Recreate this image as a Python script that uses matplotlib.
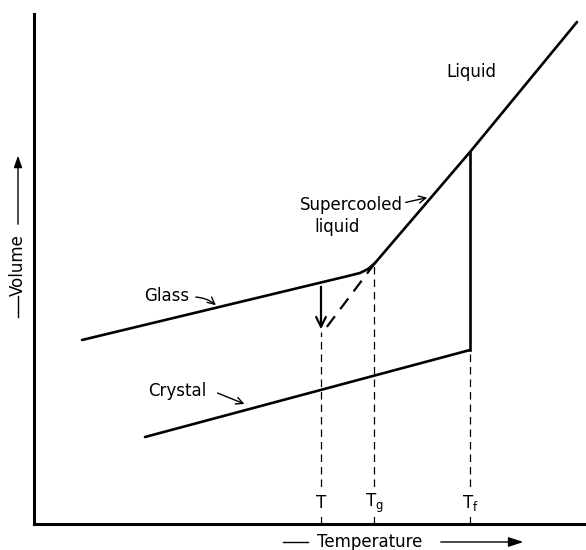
import matplotlib
matplotlib.use("Agg")
import matplotlib.pyplot as plt
import numpy as np

# Schematic data (arbitrary units: temperature, volume)
glass_T = [48, 314, 326, 334, 341]
glass_V = [184, 248, 251, 255, 261]
liquid_T = [341, 436, 543]
liquid_V = [261, 372, 502]
crystal_T = [111, 436]
crystal_V = [87, 174]
T_val, Tg_val, Tf_val = 287, 340, 436
V_T_top = 192        # volume at T after relaxation
V_T_glass = 240      # glass volume at T
V_Tg = 261
V_Tf_crystal = 174
V_Tf_liquid = 372
tick_labels = ["T", r"$\mathregular{T_g}$", r"$\mathregular{T_f}$"]

fig = plt.figure(figsize=(5.86, 5.5), dpi=100)
ax = fig.add_axes([34/586, 26/550, 552/586, 510/550])
ax.set_xlim(0, 552)
ax.set_ylim(0, 510)
for s in ["top", "right"]:
    ax.spines[s].set_visible(False)
for s in ["left", "bottom"]:
    ax.spines[s].set_linewidth(2.2)
ax.set_xticks([])
ax.set_yticks([])

lw = 1.9
ax.plot(glass_T, glass_V, color="black", lw=lw, solid_capstyle="round")
ax.plot(liquid_T, liquid_V, color="black", lw=lw, solid_capstyle="round")
ax.plot(crystal_T, crystal_V, color="black", lw=lw, solid_capstyle="round")
ax.plot([Tf_val, Tf_val], [V_Tf_crystal, V_Tf_liquid], color="black", lw=lw)

# dashed guides
dash = dict(color="black", lw=0.9, ls=(0, (6, 4)))
ax.plot([T_val, T_val], [0, V_T_top], **dash)
ax.plot([Tg_val, Tg_val], [0, V_Tg], **dash)
ax.plot([Tf_val, Tf_val], [0, V_Tf_crystal], **dash)
ax.plot([Tg_val + 1, T_val + 2], [V_Tg, V_T_top], color="black", lw=1.6,
        ls=(0, (6, 4)))

# relaxation arrow
ax.annotate("", xy=(T_val, V_T_top), xytext=(T_val, V_T_glass),
            arrowprops=dict(arrowstyle="->,head_width=0.35,head_length=0.7",
                            lw=1.6, color="black"))

fs = 12
ax.text(437, 452, "Liquid", fontsize=fs, ha="center", va="center")
ax.text(317, 319, "Supercooled", fontsize=fs, ha="center", va="center")
ax.text(303, 297, "liquid", fontsize=fs, ha="center", va="center")
ax.text(133, 228, "Glass", fontsize=fs, ha="center", va="center")
ax.text(143, 133, "Crystal", fontsize=fs, ha="center", va="center")

arr = dict(arrowstyle="->,head_width=0.25,head_length=0.5", lw=1.0, color="black")
ax.annotate("", xy=(396, 327), xytext=(369, 321), arrowprops=arr)
ax.annotate("", xy=(184, 217), xytext=(159, 227),
            arrowprops=dict(arr, connectionstyle="arc3,rad=-0.2"))
ax.annotate("", xy=(213, 119), xytext=(181, 132), arrowprops=arr)

for xv, lab in zip([T_val, Tg_val, Tf_val], tick_labels):
    ax.text(xv, 21, lab, fontsize=fs, ha="center", va="center",
            bbox=dict(facecolor="white", edgecolor="none", pad=1.5))

# axis labels with arrows
ax.text(336, -18, "Temperature", fontsize=fs, ha="center", va="center",
        clip_on=False)
ax.plot([249, 274], [-18, -18], color="black", lw=1.0, clip_on=False)
ax.annotate("", xy=(492, -18), xytext=(404, -18), annotation_clip=False,
            arrowprops=dict(arrowstyle="-|>,head_width=0.3,head_length=0.9",
                            lw=1.0, color="black"))
ax.text(-16, 259, "Volume", fontsize=fs, ha="center", va="center",
        rotation=90, clip_on=False)
ax.plot([-16, -16], [207, 228], color="black", lw=1.0, clip_on=False)
ax.annotate("", xy=(-16, 371), xytext=(-16, 297), annotation_clip=False,
            arrowprops=dict(arrowstyle="-|>,head_width=0.25,head_length=0.7",
                            lw=1.0, color="black"))

fig.savefig("out.png", dpi=100)
